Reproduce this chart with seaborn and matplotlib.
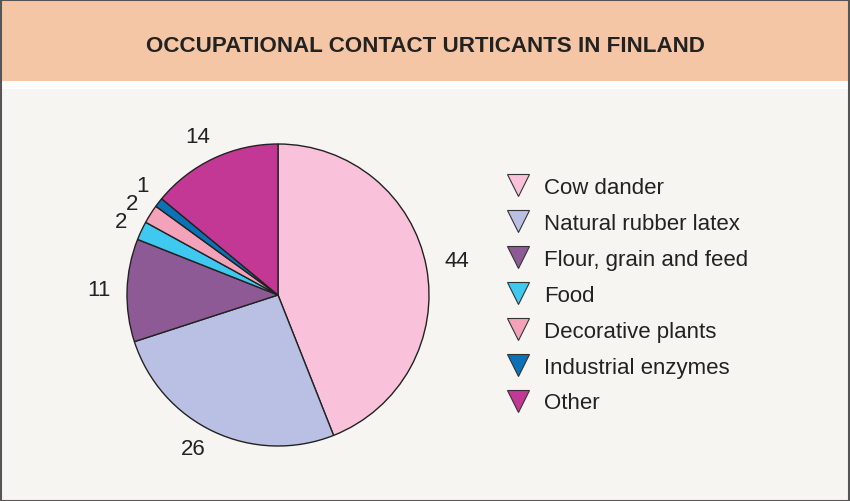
import matplotlib
matplotlib.use("Agg")
import matplotlib.pyplot as plt
import matplotlib.transforms as mtrans
import seaborn as sns
from matplotlib.lines import Line2D
from matplotlib.patches import Rectangle

categories = ["Cow dander", "Natural rubber latex", "Flour, grain and feed", "Food",
              "Decorative plants", "Industrial enzymes", "Other"]
values = [44, 26, 11, 2, 2, 1, 14]
colors = ["#F9C1DA", "#B9C0E3", "#8D5A96", "#3FC8F0", "#F4A2B9", "#0B72B7", "#C33894"]
title = "OCCUPATIONAL CONTACT URTICANTS IN FINLAND"

sns.set_theme(style="white")
plt.rcParams['font.family'] = ['Liberation Sans', 'DejaVu Sans']

W, H = 850, 502
fig = plt.figure(figsize=(W / 100, H / 100), dpi=100)
fig.patch.set_facecolor("#F6F5F1")

# header band
fig.patches.append(Rectangle((0, 1 - 82 / H), 1, 82 / H, transform=fig.transFigure,
                             facecolor="#F5C6A6", edgecolor="none", zorder=0))
fig.patches.append(Rectangle((0, 1 - 90 / H), 1, 8 / H, transform=fig.transFigure,
                             facecolor="white", edgecolor="none", zorder=0))
fig.patches.append(Rectangle((0.5 / W, 0.5 / H), 1 - 1.5 / W, 1 - 1.5 / H, transform=fig.transFigure,
                             facecolor="none", edgecolor="#555555", linewidth=1.5, zorder=5))
fig.text(0.5, 1 - 46 / H, title, ha="center", va="center", fontsize=16.1,
         fontweight="bold", color="#222222")

# pie axes
R = 151
cx, cy = 278, 296
span = 1.35
aw = 2 * span * R
ax = fig.add_axes([(cx - aw / 2) / W, (H - cy - aw / 2) / H, aw / W, aw / H])
ax.set_facecolor("none")
wedges, texts = ax.pie(values, colors=colors, startangle=90, counterclock=False,
                       labels=[str(v) for v in values], labeldistance=1.12,
                       wedgeprops=dict(edgecolor="#222222", linewidth=1.0),
                       textprops=dict(fontsize=16, color="#222222"))
for w in wedges:
    w.set_clip_on(False)

# small nudges (in pixels) so crowded labels don't collide
nudges = [(0, 3), (0, 0), (2, 0), (2, 1), (3, 1), (4, 6), (4, 5)]
for t, (dx, dy) in zip(texts, nudges):
    t.set_transform(mtrans.offset_copy(ax.transData, fig=fig, x=dx, y=dy, units="dots"))

ax.set_xlim(-span, span)
ax.set_ylim(-span, span)
ax.set_aspect("equal")
ax.axis("off")

handles = [Line2D([0], [0], marker="v", linestyle="none", markersize=16,
                  markerfacecolor=c, markeredgecolor="#333333", markeredgewidth=0.8)
           for c in colors]
fig.legend(handles, categories, loc="upper left",
           bbox_to_anchor=(497 / W, 1 - 167 / H), frameon=False, fontsize=16,
           labelspacing=0.67, handlelength=0.9, handletextpad=0.7, borderpad=0,
           labelcolor="#222222")

fig.savefig("out.png", dpi=100, facecolor=fig.get_facecolor())
